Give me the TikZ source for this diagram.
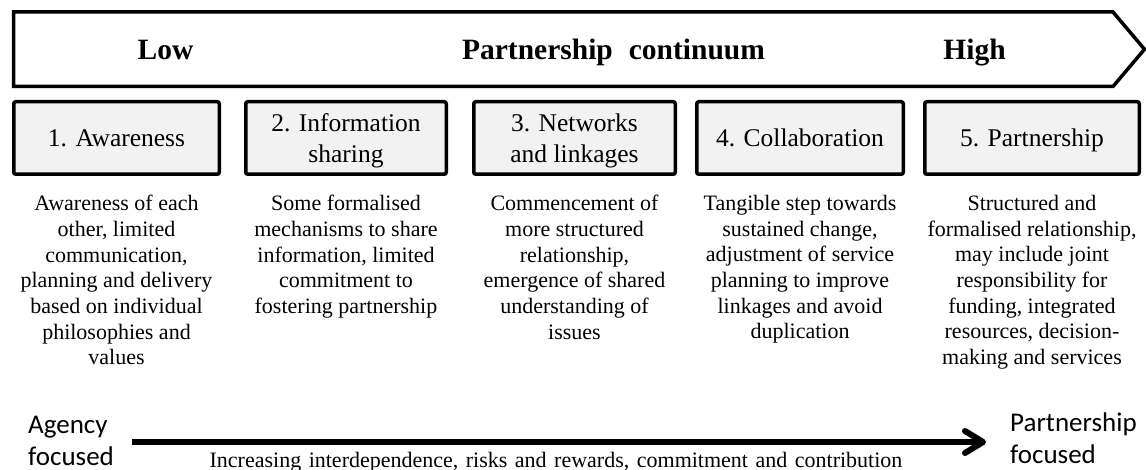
\documentclass[tikz,border=0pt]{standalone}
\usepackage{fontspec}
\setmainfont{Liberation Serif}
\newfontfamily\calibri{Carlito}
\definecolor{stagefill}{HTML}{F2F2F2}
\newcommand\widespaces{\spaceskip=7.5pt\relax}
\begin{document}
\begin{tikzpicture}[x=1pt,y=-1pt,
  stagebox/.style={draw=black, line width=3.5pt, fill=stagefill, minimum height=72.5pt,
    inner sep=0pt, align=center, rounded corners=2pt, text depth=0pt,
    font=\fontsize{25.5}{30.5}\selectfont},
  desc/.style={anchor=north, align=center, inner sep=0pt,
    font=\fontsize{22}{25.7}\selectfont},
  level/.style={anchor=base, inner sep=0pt, font=\fontsize{29.5}{33}\selectfont\bfseries},
  side/.style={anchor=north west, align=left, inner sep=0pt,
    font=\fontsize{27}{32}\calibri},
  thick line/.style={line width=6pt}
]
\useasboundingbox (0,0) rectangle (1146,470);

% banner arrow for the continuum
\draw[line width=3.5pt, line join=miter]
  (13.5,12) -- (1113,12) -- (1144.5,49.25) -- (1113,86.5) -- (13.5,86.5) -- cycle;
\node[level] (low)  at (165.5,60) {Low};
\node[level] (cont) at (613.5,60) {Partnership\hspace{16pt}continuum};
\node[level] (high) at (974.5,60) {High};

% the five stages
\node[stagebox, minimum width=205.5pt] (s1) at (116.5,138) {1. Awareness};
\node[stagebox, minimum width=200.5pt] (s2) at (346,138) {2. Information\\sharing};
\node[stagebox, minimum width=201.5pt] (s3) at (574.5,138) {3. Networks\\and linkages};
\node[stagebox, minimum width=206.5pt] (s4) at (800,138) {4. Collaboration};
\node[stagebox, minimum width=214.5pt] (s5) at (1032,138) {5. Partnership};

% descriptions under each stage
\node[desc] (d1) at (116.5,195) {Awareness of each\\other, limited\\communication,\\planning and delivery\\based on individual\\philosophies and\\values};
\node[desc] (d2) at (346,195) {Some formalised\\mechanisms to share\\information, limited\\commitment to\\fostering partnership};
\node[desc] (d3) at (574.5,195) {Commencement of\\more structured\\relationship,\\emergence of shared\\understanding of\\issues};
\node[desc] (d4) at (800,195) {Tangible step towards\\sustained change,\\adjustment of service\\planning to improve\\linkages and avoid\\duplication};
\node[desc] (d5) at (1032,195) {Structured and\\formalised relationship,\\may include joint\\responsibility for\\funding, integrated\\resources, decision-\\making and services};

% bottom axis
\node[side] (agency) at (28,415.5) {Agency\\focused};
\node[side] (pfocus) at (1010,413) {Partnership\\focused};
\coordinate (axisStart) at (132,442);
\coordinate (axisEnd) at (983,442);
\coordinate (barbTop) at (965,431);
\coordinate (barbBot) at (965,453);
\draw[thick line] (axisStart) -- (axisEnd);
\draw[thick line, line cap=round, line join=round] (barbTop) -- (axisEnd) -- (barbBot);
\node[anchor=base, inner sep=0pt, font=\fontsize{22}{25}\selectfont] (caption) at (556,467)
  {\widespaces Increasing interdependence, risks and rewards, commitment and contribution};
\end{tikzpicture}
\end{document}
